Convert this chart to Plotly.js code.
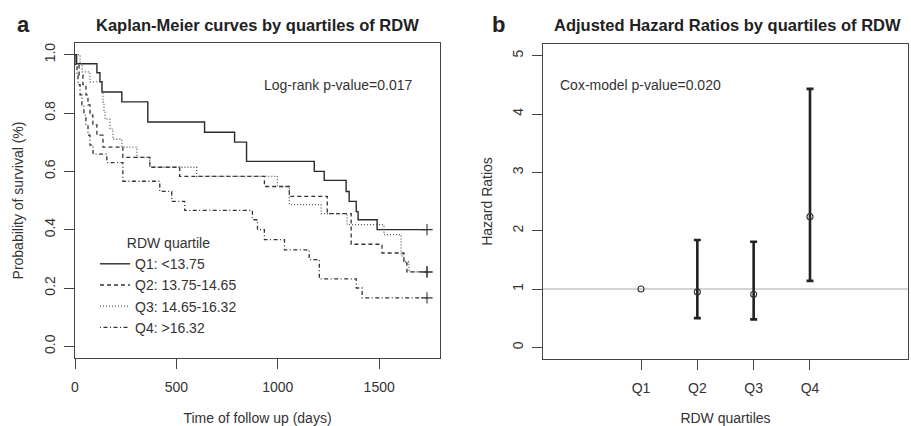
<!DOCTYPE html>
<html>
<head>
<meta charset="utf-8">
<script src="https://cdn.plot.ly/plotly-3.0.1.min.js"></script>
<style>
  html, body { margin: 0; padding: 0; background: #fff; }
  #chart { width: 911px; height: 426px; }
</style>
</head>
<body>
<div id="chart"></div>
<script>
// ---------- Panel a: Kaplan-Meier curves (days, survival probability) ----------
const seriesNames = ['Q1: <13.75', 'Q2: 13.75-14.65', 'Q3: 14.65-16.32', 'Q4: >16.32'];

const q1Time = [0, 8, 108, 123, 133, 231, 359, 639, 787, 846, 1180, 1229, 1337, 1352, 1387, 1396, 1490, 1736];
const q1Surv = [1, 0.969, 0.938, 0.907, 0.872, 0.838, 0.769, 0.734, 0.700, 0.634, 0.600, 0.569, 0.531, 0.497, 0.462, 0.434, 0.400, 0.400];

const q2Time = [0, 5, 20, 39, 54, 64, 74, 88, 108, 138, 236, 369, 516, 934, 1057, 1244, 1362, 1514, 1622, 1637, 1736];
const q2Surv = [1, 0.966, 0.931, 0.897, 0.862, 0.828, 0.793, 0.759, 0.724, 0.683, 0.648, 0.614, 0.583, 0.548, 0.514, 0.455, 0.350, 0.320, 0.286, 0.255, 0.255];

const q3Time = [0, 25, 35, 74, 133, 138, 143, 148, 172, 187, 231, 305, 369, 600, 998, 1057, 1214, 1342, 1524, 1608, 1622, 1647, 1736];
const q3Surv = [1, 0.969, 0.941, 0.907, 0.872, 0.838, 0.807, 0.779, 0.745, 0.710, 0.683, 0.648, 0.614, 0.583, 0.548, 0.486, 0.455, 0.417, 0.383, 0.310, 0.290, 0.255, 0.255];

const q4Time = [0, 5, 10, 15, 25, 34, 44, 54, 64, 74, 89, 157, 236, 418, 477, 541, 875, 900, 934, 1033, 1155, 1205, 1387, 1416, 1736];
const q4Surv = [1, 0.966, 0.931, 0.897, 0.862, 0.828, 0.793, 0.759, 0.724, 0.690, 0.659, 0.630, 0.566, 0.531, 0.497, 0.466, 0.434, 0.400, 0.366, 0.331, 0.297, 0.231, 0.200, 0.166, 0.166];

const kmTimeTicks = [0, 500, 1000, 1500];
const kmSurvTicks = [0, 0.2, 0.4, 0.6, 0.8, 1.0];

// ---------- Panel b: adjusted hazard ratios ----------
const hrCategories = ['Q1', 'Q2', 'Q3', 'Q4'];
const hrValues = [1.00, 0.95, 0.91, 2.24];
const hrLower  = [null, 0.50, 0.48, 1.14];
const hrUpper  = [null, 1.84, 1.81, 4.43];
const hrTicks = [0, 1, 2, 3, 4, 5];

// ---------- styles ----------
const FONT = 'Liberation Sans, Arial, sans-serif';
const TXT = '#333';
const AX = '#444';
const kmStyles = [
  {color: '#2a2a2a', dash: 'solid', width: 1.4},
  {color: '#333333', dash: '4px,3px', width: 1.3},
  {color: '#555555', dash: '1px,2px', width: 1.3},
  {color: '#333333', dash: '1px,2.5px,4px,2.5px', width: 1.3}
];

const kmData = [[q1Time, q1Surv], [q2Time, q2Surv], [q3Time, q3Surv], [q4Time, q4Surv]];
const traces = [];
kmData.forEach(function (d, i) {
  traces.push({
    type: 'scatter', mode: 'lines', x: d[0], y: d[1],
    line: {shape: 'hv', color: kmStyles[i].color, dash: kmStyles[i].dash, width: kmStyles[i].width},
    name: seriesNames[i], xaxis: 'x', yaxis: 'y', legend: 'legend', showlegend: true
  });
});
// censoring marks at the end of each curve
traces.push({
  type: 'scatter', mode: 'markers',
  x: kmData.map(function (d) { return d[0][d[0].length - 1]; }),
  y: kmData.map(function (d) { return d[1][d[1].length - 1]; }),
  marker: {symbol: 'cross-thin-open', size: 8, line: {color: '#333', width: 1.1}, color: '#333'},
  xaxis: 'x', yaxis: 'y', showlegend: false
});

// hazard ratio points with CIs
const ciIdx = hrCategories.map(function (c, i) { return i; }).filter(function (i) { return hrLower[i] !== null; });
const noCiIdx = hrCategories.map(function (c, i) { return i; }).filter(function (i) { return hrLower[i] === null; });
traces.push({
  type: 'scatter', mode: 'markers',
  x: ciIdx.map(function (i) { return hrCategories[i]; }),
  y: ciIdx.map(function (i) { return hrValues[i]; }),
  error_y: {
    type: 'data', symmetric: false,
    array: ciIdx.map(function (i) { return hrUpper[i] - hrValues[i]; }),
    arrayminus: ciIdx.map(function (i) { return hrValues[i] - hrLower[i]; }),
    color: '#222', thickness: 2.6, width: 3.5
  },
  marker: {symbol: 'circle-open', size: 6, color: '#333', line: {width: 1.1, color: '#333'}},
  xaxis: 'x2', yaxis: 'y2', showlegend: false
});
traces.push({
  type: 'scatter', mode: 'markers',
  x: noCiIdx.map(function (i) { return hrCategories[i]; }),
  y: noCiIdx.map(function (i) { return hrValues[i]; }),
  marker: {symbol: 'circle-open', size: 6, color: '#333', line: {width: 1.1, color: '#333'}},
  xaxis: 'x2', yaxis: 'y2', showlegend: false
});

const W = 911, H = 426;
function axBase() {
  return {
    showline: true, mirror: true, linecolor: AX, linewidth: 1,
    ticks: 'outside', ticklen: 10, tickcolor: AX, tickwidth: 1,
    showgrid: false, zeroline: false,
    tickfont: {family: FONT, size: 14, color: TXT}
  };
}

const layout = {
  width: W, height: H,
  margin: {l: 0, r: 0, t: 0, b: 0},
  paper_bgcolor: '#fff', plot_bgcolor: '#fff',
  font: {family: FONT, size: 14, color: TXT},
  xaxis: Object.assign(axBase(), {
    domain: [75 / W, 440 / W], range: [0, 1800], anchor: 'y',
    tickvals: kmTimeTicks, ticklabelstandoff: 6,
    title: {text: 'Time of follow up (days)', font: {family: FONT, size: 14, color: TXT}, standoff: 20}
  }),
  yaxis: Object.assign(axBase(), {
    domain: [(H - 358) / H, (H - 43) / H], range: [-0.04, 1.04], anchor: 'x',
    tickvals: kmSurvTicks, tickformat: '.1f', tickangle: -90, ticklabelstandoff: 3,
    title: {text: 'Probability of survival (%)', font: {family: FONT, size: 14, color: TXT}, standoff: 15}
  }),
  xaxis2: Object.assign(axBase(), {
    domain: [543 / W, 908 / W], type: 'category', range: [-1.74, 4.74], anchor: 'y2',
    categoryorder: 'array', categoryarray: hrCategories, ticklabelstandoff: 6,
    title: {text: 'RDW quartiles', font: {family: FONT, size: 14, color: TXT}, standoff: 20}
  }),
  yaxis2: Object.assign(axBase(), {
    domain: [(H - 359) / H, (H - 44) / H], range: [-0.2, 5.2], anchor: 'x2',
    tickvals: hrTicks, tickangle: -90, ticklabelstandoff: 3,
    title: {text: 'Hazard Ratios', font: {family: FONT, size: 14, color: TXT}, standoff: 14}
  }),
  legend: {
    x: 95 / W, xanchor: 'left', y: 1 - 230 / H, yanchor: 'top',
    bgcolor: 'rgba(0,0,0,0)', borderwidth: 0,
    font: {family: FONT, size: 14, color: TXT},
    title: {text: 'RDW quartile', side: 'top center', font: {family: FONT, size: 14, color: TXT}},
    tracegroupgap: 0, itemwidth: 30
  },
  shapes: [
    {type: 'line', xref: 'x2 domain', x0: 0, x1: 1, yref: 'y2', y0: 1, y1: 1,
     line: {color: '#a8a8a8', width: 1}, layer: 'below'}
  ],
  annotations: [
    {text: '<b>a</b>', xref: 'paper', yref: 'paper', x: 23 / W, y: 1 - 25 / H, showarrow: false,
     font: {family: FONT, size: 22, color: '#222'}, xanchor: 'center', yanchor: 'middle'},
    {text: '<b>b</b>', xref: 'paper', yref: 'paper', x: 499 / W, y: 1 - 24 / H, showarrow: false,
     font: {family: FONT, size: 22, color: '#222'}, xanchor: 'center', yanchor: 'middle'},
    {text: '<b>Kaplan-Meier curves by quartiles of RDW</b>', xref: 'paper', yref: 'paper',
     x: 257 / W, y: 1 - 25 / H, showarrow: false,
     font: {family: FONT, size: 16.5, color: '#222'}, xanchor: 'center', yanchor: 'middle'},
    {text: '<b>Adjusted Hazard Ratios by quartiles of RDW</b>', xref: 'paper', yref: 'paper',
     x: 727 / W, y: 1 - 25 / H, showarrow: false,
     font: {family: FONT, size: 16.5, color: '#222'}, xanchor: 'center', yanchor: 'middle'},
    {text: 'Log-rank p-value=0.017', xref: 'paper', yref: 'paper',
     x: 338 / W, y: 1 - 85 / H, showarrow: false,
     font: {family: FONT, size: 14, color: TXT}, xanchor: 'center', yanchor: 'middle'},
    {text: 'Cox-model p-value=0.020', xref: 'paper', yref: 'paper',
     x: 640 / W, y: 1 - 85 / H, showarrow: false,
     font: {family: FONT, size: 14, color: TXT}, xanchor: 'center', yanchor: 'middle'}
  ]
};

Plotly.newPlot('chart', traces, layout, {staticPlot: true, displayModeBar: false});
</script>
</body>
</html>
